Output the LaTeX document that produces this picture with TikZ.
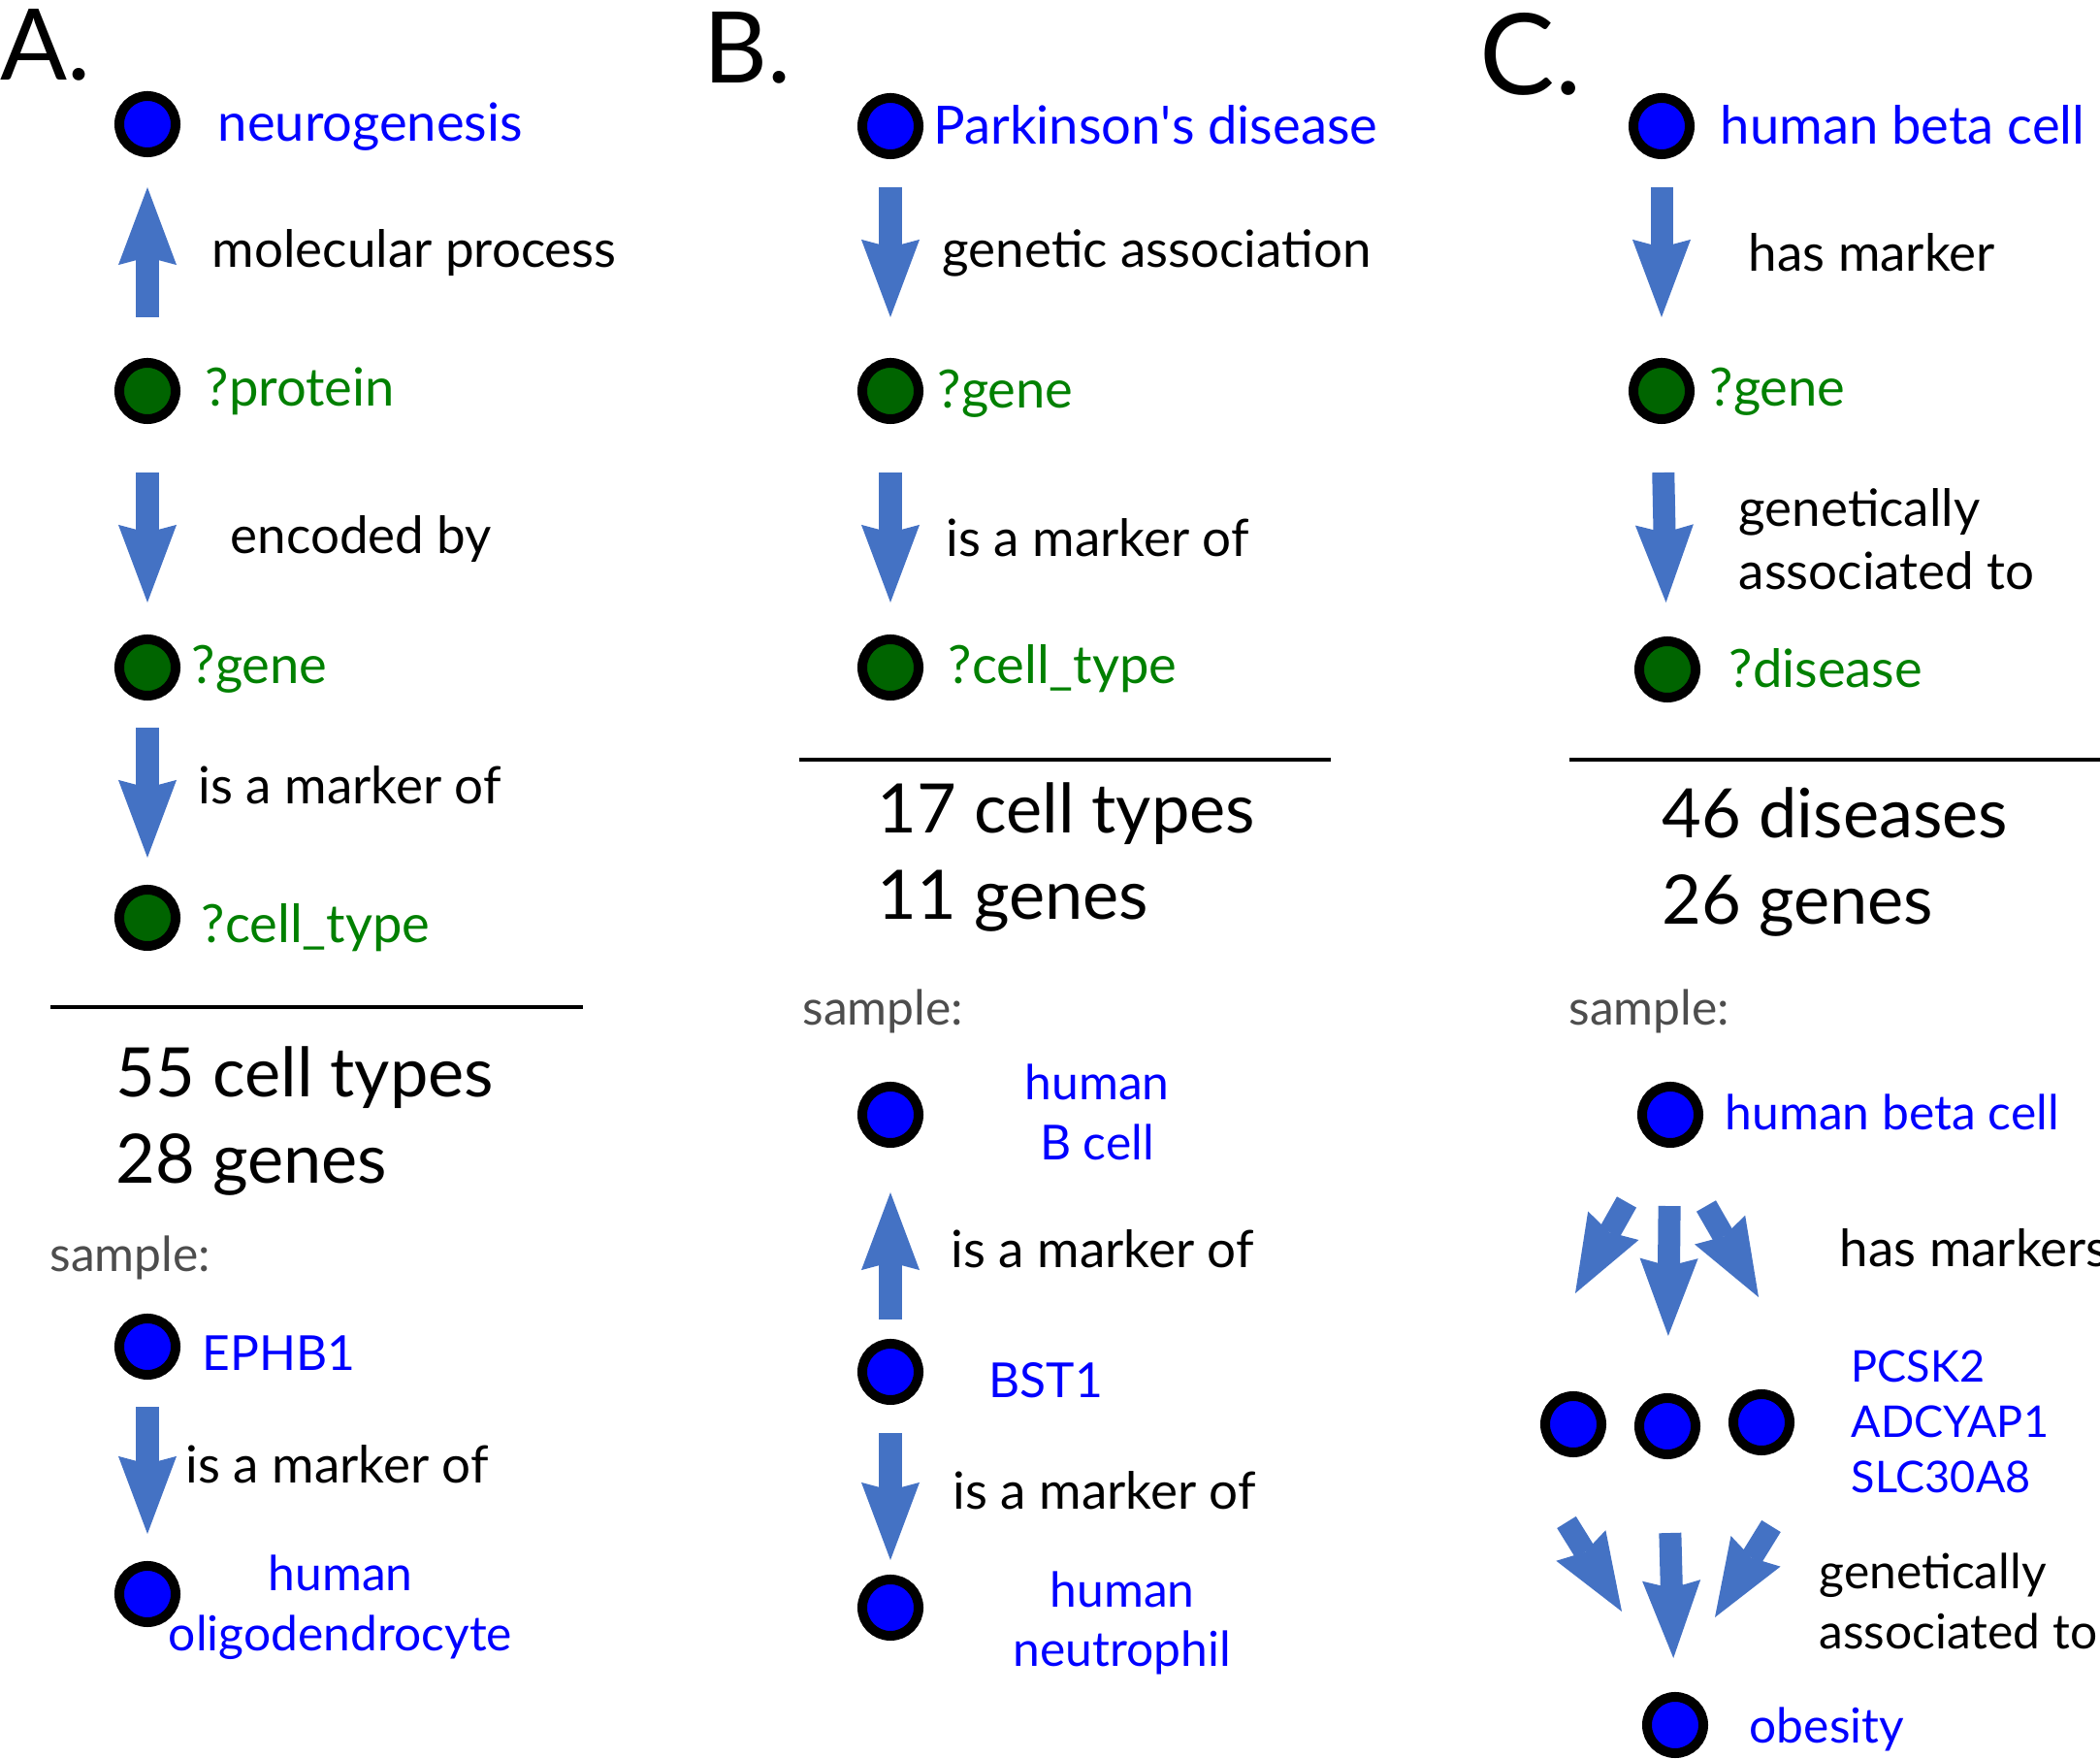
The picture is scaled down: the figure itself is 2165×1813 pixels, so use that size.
\documentclass[tikz,border=0pt]{standalone}
\usepackage{fontspec}
\setmainfont{Lato}
\usetikzlibrary{arrows.meta}
\pgfdeclarelayer{edgelayer}
\pgfdeclarelayer{nodelayer}
\pgfsetlayers{edgelayer,nodelayer,main}
\definecolor{arrowblue}{RGB}{68,114,196}
\definecolor{termgreen}{RGB}{0,128,0}
\definecolor{vargreen}{RGB}{0,100,0}
\definecolor{samplegray}{RGB}{77,77,77}
\tikzstyle{bluenode}=[circle, fill=blue, draw=black, line width=0.1cm, minimum size=0.58cm, inner sep=0pt]
\tikzstyle{greennode}=[bluenode, fill=vargreen]
\tikzstyle{flow}=[draw=arrowblue, line width=0.23cm, -{Stealth[length=0.8cm, width=0.6cm, inset=0.08cm, line width=0pt]}]
\tikzstyle{rule}=[draw=black, line width=0.04cm]
\tikzstyle{lbl}=[anchor=west, inner sep=0pt, font=\fontsize{15.05pt}{18.5pt}\selectfont, text height=0.37cm, text depth=0cm]
\tikzstyle{qlbl}=[lbl, font=\fontsize{15.45pt}{18.5pt}\selectfont]
\tikzstyle{slbl}=[lbl, font=\fontsize{14.15pt}{17.6pt}\selectfont]
\tikzstyle{lbltwo}=[inner sep=0pt, align=center, font=\fontsize{14.15pt}{17.6pt}\selectfont]
\tikzstyle{count}=[anchor=west, inner sep=0pt, align=left, font=\fontsize{20pt}{25.3pt}\selectfont]
\tikzstyle{genes}=[anchor=west, inner sep=0pt, align=left, text=blue, font=\fontsize{12.8pt}{16.2pt}\selectfont]
\tikzstyle{panel}=[anchor=base west, inner sep=0pt, font=\fontsize{29pt}{34pt}\selectfont]

\begin{document}
\begin{tikzpicture}[x=0.01cm, y=-0.01cm]
	\path [use as bounding box, clip] (0,0) rectangle (2165,1813);
	\begin{pgfonlayer}{nodelayer}
		% A. neurogenesis
		\node [style=panel] (pa) at (0,83) {A.};
		\node [style=bluenode] (a1) at (152,128) {};
		\node [style=greennode] (a2) at (152,403) {};
		\node [style=greennode] (a3) at (152,688) {};
		\node [style=greennode] (a4) at (152,946) {};
		\node [style=bluenode] (a5) at (152,1388) {};
		\node [style=bluenode] (a6) at (152,1643) {};
		\node [style=qlbl, text=blue] at (224,127) {neurogenesis};
		\node [style=lbl] at (218,257) {molecular process};
		\node [style=qlbl, text=termgreen] at (211,400) {?protein};
		\node [style=lbl] at (237,552) {encoded by};
		\node [style=qlbl, text=termgreen] at (197,686) {?gene};
		\node [style=lbl] at (204,810) {is a marker of};
		\node [style=qlbl, text=termgreen] at (207,953) {?cell\_type};
		\node [style=count] at (119,1156) {55 cell types\\28 genes};
		\node [style=slbl, text=samplegray] at (51,1292) {sample:};
		\node [style=slbl, text=blue] at (208,1394) {EPHB1};
		\node [style=lbl] at (191,1510) {is a marker of};
		\node [style=lbltwo, text=blue] at (351,1657) {human\\oligodendrocyte};
		% B. Parkinson's disease
		\node [style=panel] (pb) at (725,86) {B.};
		\node [style=bluenode] (b1) at (918,130) {};
		\node [style=greennode] (b2) at (918,403) {};
		\node [style=greennode] (b3) at (918,688) {};
		\node [style=bluenode] (b5) at (918,1149) {};
		\node [style=bluenode] (b6) at (918,1414) {};
		\node [style=bluenode] (b7) at (918,1657) {};
		\node [style=qlbl, text=blue] at (962,130) {Parkinson\textquotesingle s disease};
		\node [style=lbl] at (971,257) {genetic association};
		\node [style=qlbl, text=termgreen] at (966,402) {?gene};
		\node [style=lbl] at (975,555) {is a marker of};
		\node [style=qlbl, text=termgreen] at (977,686) {?cell\_type};
		\node [style=count] at (904,884) {17 cell types\\11 genes};
		\node [style=slbl, text=samplegray] at (827,1038) {sample:};
		\node [style=lbltwo, text=blue] at (1131,1146) {human\\B cell};
		\node [style=lbl] at (980,1288) {is a marker of};
		\node [style=slbl, text=blue] at (1019,1422) {BST1};
		\node [style=lbl] at (982,1537) {is a marker of};
		\node [style=lbltwo, text=blue] at (1157,1673) {human\\neutrophil};
		% C. human beta cell
		\node [style=panel, font=\fontsize{33pt}{38pt}\selectfont] (pc) at (1525,98) {C.};
		\node [style=bluenode] (c1) at (1713,130) {};
		\node [style=greennode] (c2) at (1713,403) {};
		\node [style=greennode] (c3) at (1719,690) {};
		\node [style=bluenode] (c5) at (1722,1149) {};
		\node [style=bluenode] (g1) at (1622,1468) {};
		\node [style=bluenode] (g2) at (1719,1470) {};
		\node [style=bluenode] (g3) at (1816,1466) {};
		\node [style=bluenode] (c9) at (1727,1778) {};
		\node [style=qlbl, text=blue] at (1773,130) {human beta cell};
		\node [style=lbl] at (1802,261) {has marker};
		\node [style=qlbl, text=termgreen] at (1762,400) {?gene};
		\node [style=lbl, align=left, text height=, text depth=] at (1792,556) {genetically\\associated to};
		\node [style=qlbl, text=termgreen] at (1782,690) {?disease};
		\node [style=count] at (1713,889) {46 diseases\\26 genes};
		\node [style=slbl, text=samplegray] at (1617,1038) {sample:};
		\node [style=slbl, text=blue] at (1778,1146) {human beta cell};
		\node [style=lbl] at (1896,1287) {has markers};
		\node [style=genes] at (1908,1465) {PCSK2\\ADCYAP1\\SLC30A8};
		\node [style=lbltwo, align=left, anchor=west] at (1875,1650) {genetically\\associated to};
		\node [style=slbl, text=blue] at (1803,1778) {obesity};
	\end{pgfonlayer}
	\begin{pgfonlayer}{edgelayer}
		\coordinate (f1) at (1677,1239);
		\coordinate (f2) at (1624,1333);
		\coordinate (f3) at (1759,1243);
		\coordinate (f4) at (1813,1337);
		\coordinate (f5) at (1615,1569);
		\coordinate (f6) at (1672,1661);
		\coordinate (f7) at (1826,1573);
		\coordinate (f8) at (1768,1667);
		\draw [style=flow, shorten <=0.42cm, shorten >=0.31cm] (a2) to (a1);
		\draw [style=flow, shorten <=0.50cm, shorten >=0.33cm] (a2) to (a3);
		\draw [style=flow, shorten <=0.28cm, shorten >=0.28cm] (a3) to (a4);
		\draw [style=flow, shorten <=0.28cm, shorten >=0.28cm] (a5) to (a6);
		\draw [style=flow, shorten <=0.29cm, shorten >=0.42cm] (b1) to (b2);
		\draw [style=flow, shorten <=0.50cm, shorten >=0.33cm] (b2) to (b3);
		\draw [style=flow, shorten <=0.20cm, shorten >=0.46cm] (b6) to (b5);
		\draw [style=flow, shorten <=0.29cm, shorten >=0.15cm] (b6) to (b7);
		\draw [style=flow, shorten <=0.29cm, shorten >=0.42cm] (c1) to (c2);
		\draw [style=flow, shorten <=0.50cm, shorten >=0.35cm] (c2) to (c3);
		\draw [style=flow, shorten <=0.60cm, shorten >=0.59cm] (c5) to (g2);
		\draw [style=flow] (f1) to (f2);
		\draw [style=flow] (f3) to (f4);
		\draw [style=flow, shorten <=0.76cm, shorten >=0.35cm] (g2) to (c9);
		\draw [style=flow] (f5) to (f6);
		\draw [style=flow] (f7) to (f8);
		\draw [style=rule] (52,1038) -- (601,1038);
		\draw [style=rule] (824,783) -- (1372,783);
		\draw [style=rule] (1618,783) -- (2165,783);
	\end{pgfonlayer}
\end{tikzpicture}
\end{document}
